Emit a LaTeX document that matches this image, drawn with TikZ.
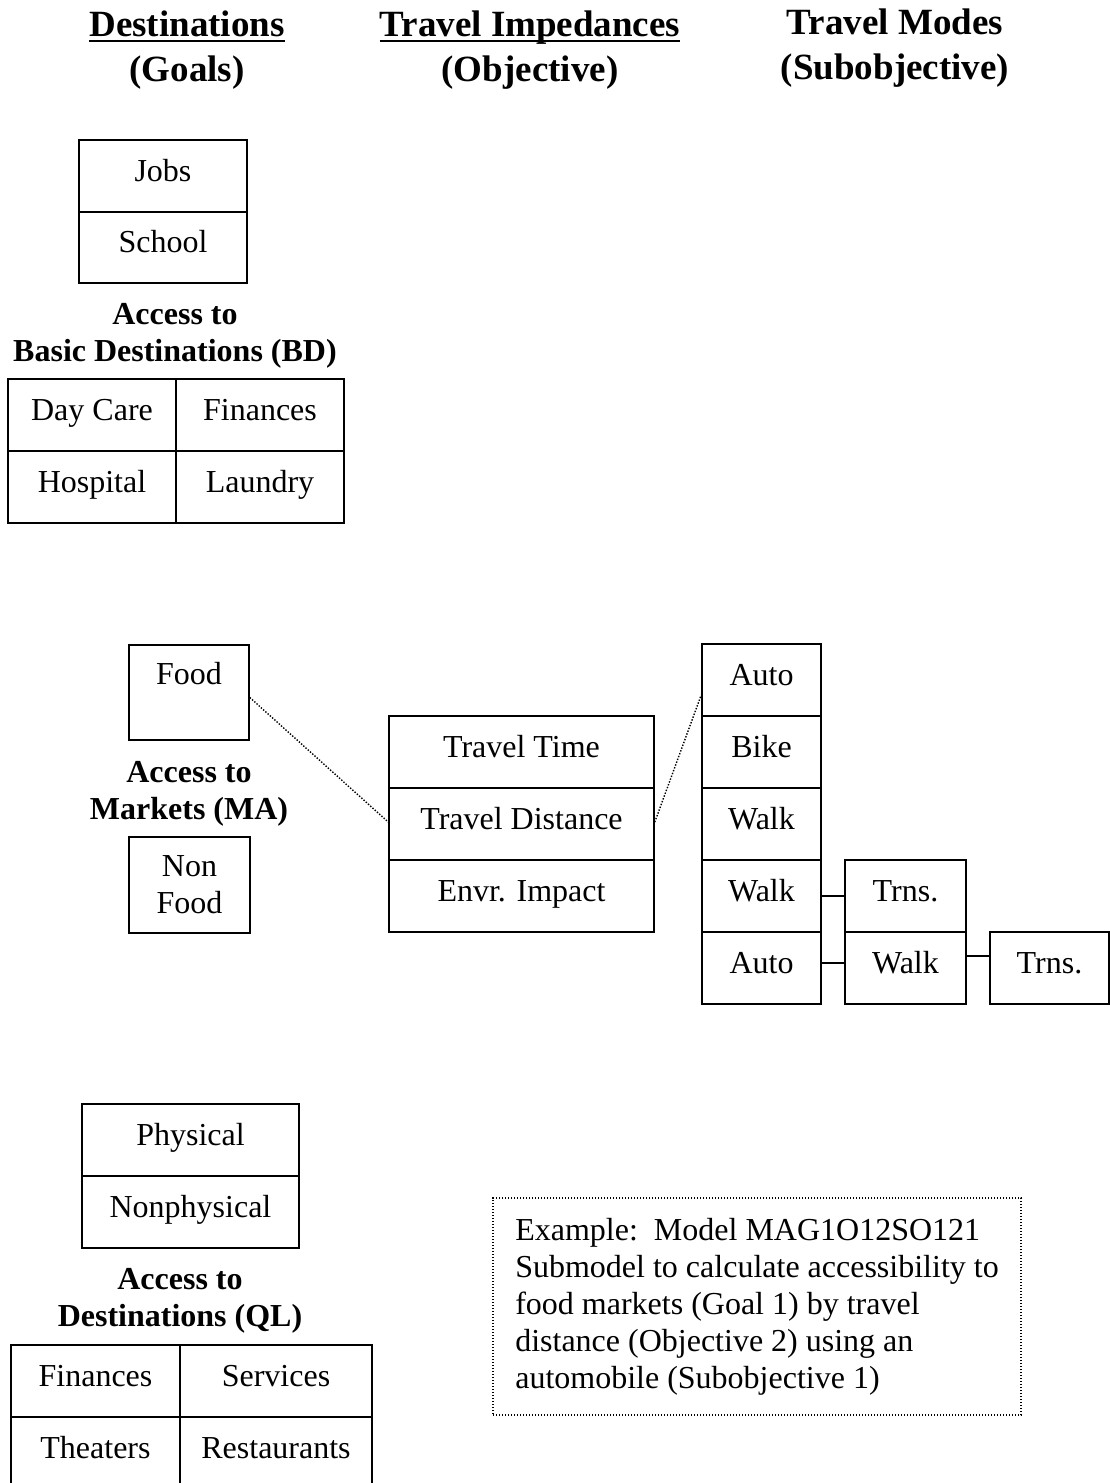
\documentclass[tikz,border=0pt]{standalone}
\usepackage{fontspec}
\setmainfont{Liberation Serif}
\begin{document}
\begin{tikzpicture}[x=1pt,y=-1pt,
  every node/.style={font=\fontsize{32}{37}\selectfont},
  cell/.style={draw, line width=1.6pt, inner sep=0pt, text height=23pt, text depth=13pt},
  hdr/.style={font=\fontsize{37}{44}\selectfont\bfseries, inner sep=0pt, anchor=base},
  grp/.style={font=\fontsize{32}{37}\selectfont\bfseries, align=center, inner sep=0pt},
  link/.style={line width=1.6pt},
  dots/.style={line width=1.4pt, dash pattern=on 1.4pt off 1.6pt},
  uline/.style={line width=2.8pt}]
\useasboundingbox (0,0) rectangle (1110,1483);

% headers
\node[hdr] (h1) at (187,36) {Destinations};
\node[hdr] (h1b) at (187,81) {(Goals)};
\node[hdr] (h2) at (530,36) {Travel Impedances};
\node[hdr] (h2b) at (530,81) {(Objective)};
\node[hdr] (h3) at (895,34) {Travel Modes};
\node[hdr] (h3b) at (895,79) {(Subobjective)};
\draw[uline] ([yshift=-5pt]h1.base west) -- ([yshift=-5pt]h1.base east);
\draw[uline] ([yshift=-5pt]h2.base west) -- ([yshift=-5pt]h2.base east);

% Basic destinations
\node[cell, minimum width=168, minimum height=72] (jobs) at (163,176) {Jobs};
\node[cell, minimum width=168, minimum height=71] (school) at (163,247.5) {School};
\node[grp] (bdlab) at (175,336) {Access to\\Basic Destinations (BD)};
\node[cell, minimum width=168, minimum height=72] (day) at (92,415) {Day Care};
\node[cell, minimum width=168, minimum height=72] (fin1) at (260,415) {Finances};
\node[cell, minimum width=168, minimum height=72] (hosp) at (92,487) {Hospital};
\node[cell, minimum width=168, minimum height=72] (laun) at (260,487) {Laundry};

% Markets
\node[cell, minimum width=120, minimum height=95, text depth=39pt] (food) at (189,692.5) {Food};
\node[grp] (malab) at (189,794) {Access to\\Markets (MA)};
\node[draw, line width=1.6pt, minimum width=121, minimum height=96, align=center, inner sep=0pt] (nonfood) at (189.5,885) {Non\\Food};

% Travel impedances
\node[cell, minimum width=265, minimum height=72] (ttime) at (521.5,752) {Travel Time};
\node[cell, minimum width=265, minimum height=72] (tdist) at (521.5,824) {Travel Distance};
\node[cell, minimum width=265, minimum height=72] (envr) at (521.5,896) {Envr. Impact};

% Travel modes
\node[cell, minimum width=119, minimum height=72] (auto1) at (761.5,680) {Auto};
\node[cell, minimum width=119, minimum height=72] (bike) at (761.5,752) {Bike};
\node[cell, minimum width=119, minimum height=72] (walk1) at (761.5,824) {Walk};
\node[cell, minimum width=119, minimum height=72] (walk2) at (761.5,896) {Walk};
\node[cell, minimum width=119, minimum height=72] (auto2) at (761.5,968) {Auto};
\node[cell, minimum width=121, minimum height=72] (trns1) at (905.5,896) {Trns.};
\node[cell, minimum width=121, minimum height=72] (walk3) at (905.5,968) {Walk};
\node[cell, minimum width=119, minimum height=72] (trns2) at (1049.5,968) {Trns.};

\draw[link] (walk2.east) -- (trns1.west);
\draw[link] ([yshift=5pt]auto2.east) -- ([yshift=5pt]walk3.west);
\draw[link] ([yshift=12pt]walk3.east) -- ([yshift=12pt]trns2.west);

\draw[dots] ([yshift=-5pt]food.east) -- ([yshift=2pt]tdist.west);
\draw[dots] ([yshift=2pt]tdist.east) -- ([yshift=-15pt]auto1.west);

% Quality of life
\node[cell, minimum width=217, minimum height=72] (phys) at (190.5,1140) {Physical};
\node[cell, minimum width=217, minimum height=72] (nonphys) at (190.5,1212) {Nonphysical};
\node[grp] (qllab) at (180,1301) {Access to\\Destinations (QL)};
\node[cell, minimum width=169, minimum height=72] (fin2) at (95.5,1381) {Finances};
\node[cell, minimum width=192, minimum height=72] (serv) at (276,1381) {Services};
\node[cell, minimum width=169, minimum height=72] (thea) at (95.5,1453) {Theaters};
\node[cell, minimum width=192, minimum height=72] (rest) at (276,1453) {Restaurants};

% Example note
\node[draw, dots, minimum width=528, minimum height=217, align=left, inner sep=0pt] (note) at (757,1306.5)
  {Example:\ \ Model MAG1O12SO121\\Submodel to calculate accessibility to\\food markets (Goal 1) by travel\\distance (Objective 2) using an\\automobile (Subobjective 1)\hspace*{6pt}};
\end{tikzpicture}
\end{document}
